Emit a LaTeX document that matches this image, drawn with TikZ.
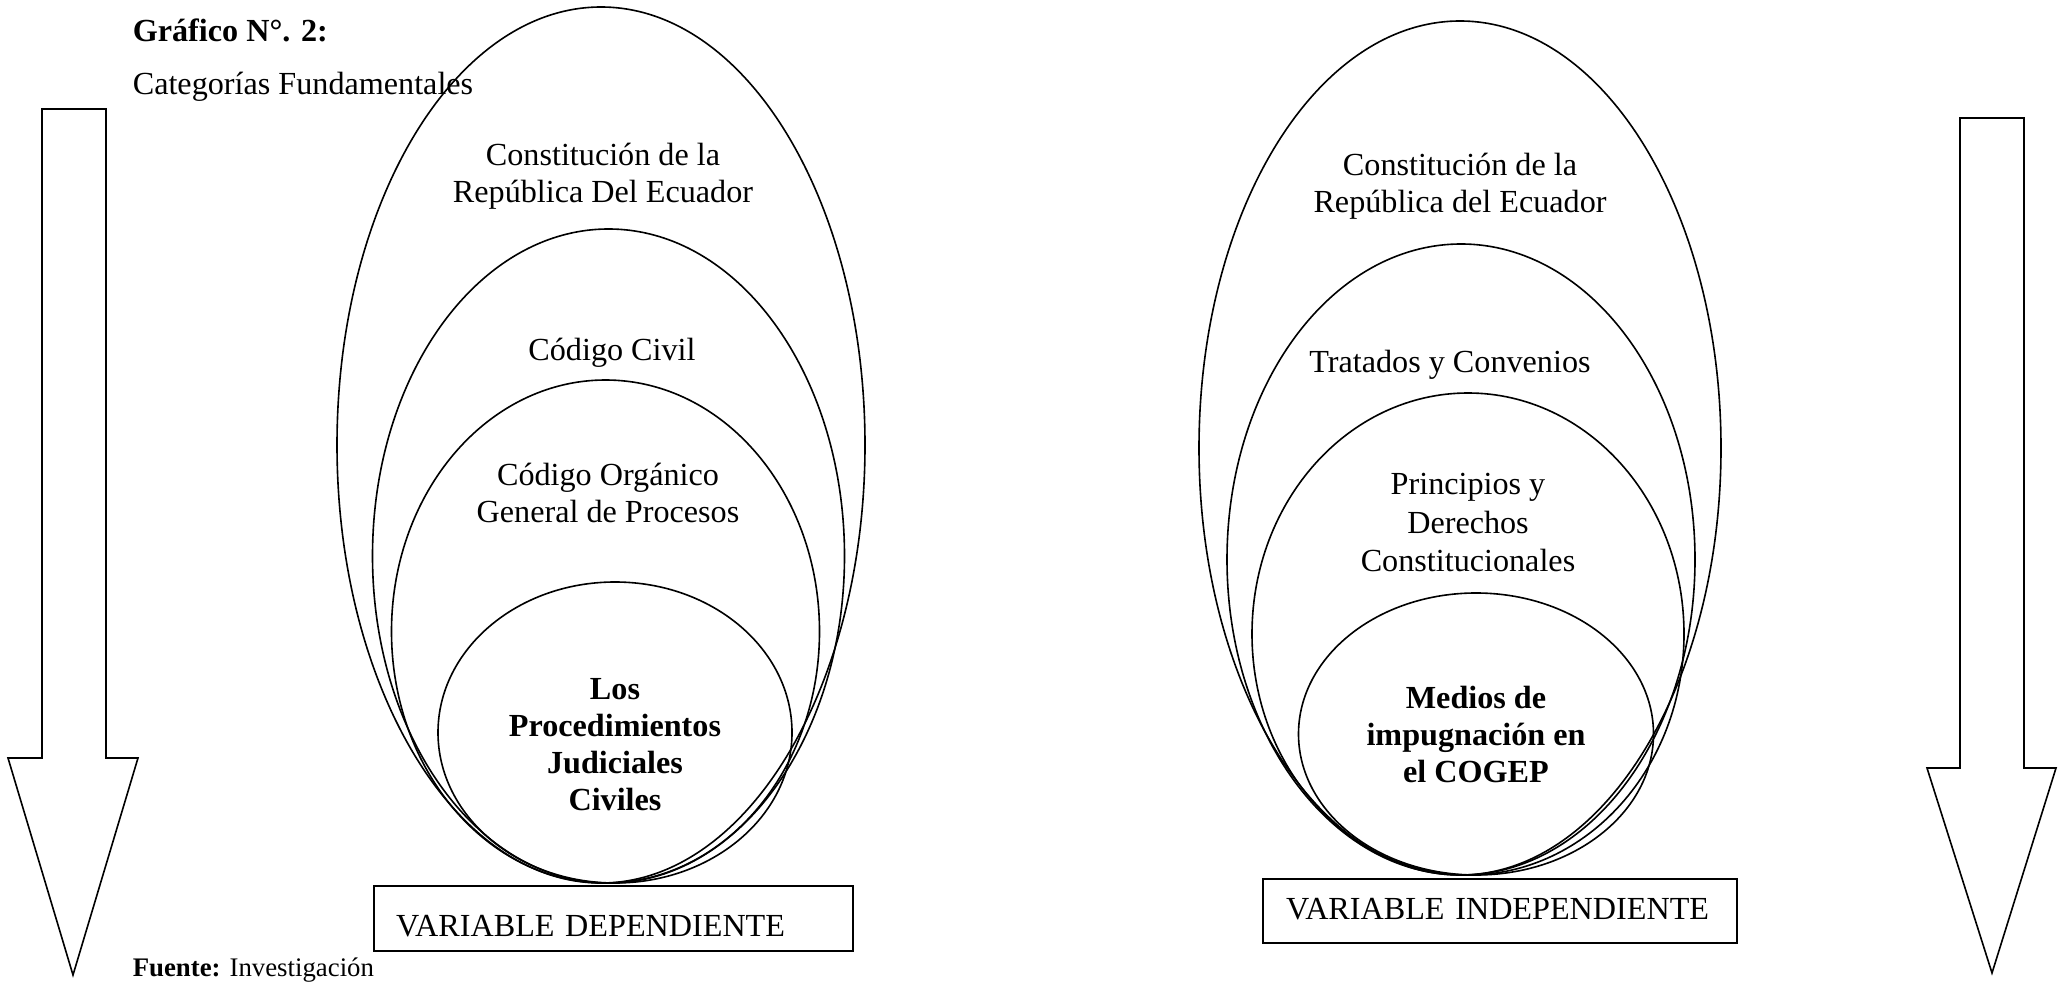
\documentclass[tikz,border=0pt]{standalone}
\usepackage{fontspec}
\setmainfont{Liberation Serif}

\begin{document}
\begin{tikzpicture}[x=0.373pt,y=-0.373pt,line width=0.6pt,
    text node/.style={anchor=base,align=center,inner sep=0pt,font=\fontsize{12}{13.8}\selectfont},
    bold node/.style={text node,font=\fontsize{12}{13.8}\selectfont\bfseries},
    head node/.style={anchor=base west,inner sep=0pt,font=\fontsize{12}{13.8}\selectfont},
    var node/.style={draw,line width=0.8pt,anchor=north west,align=left,inner ysep=0pt,font=\fontsize{12}{13.8}\selectfont}]
    \useasboundingbox (0,0) rectangle (2064,984);

    % encabezado
    \node[head node,font=\fontsize{12}{13.8}\selectfont\bfseries] (titulo) at (132,42) {Gráfico N°. 2:};
    \node[head node] (subtitulo) at (132,95) {Categorías Fundamentales};
    \node[head node,font=\fontsize{10}{11.5}\selectfont] (fuente) at (132,976) {\textbf{Fuente:} Investigación};

    % flechas
    \draw (42,109) -- (106,109) -- (106,758) -- (138,758) -- (73,975) -- (8,758) -- (42,758) -- cycle;
    \draw (1960,118) -- (2024,118) -- (2024,768) -- (2056,768) -- (1992,973) -- (1927,768) -- (1960,768) -- cycle;

    % variable dependiente (base = ultima linea)
    \draw (601,445) ellipse [x radius=264, y radius=438];
    \draw (608.5,556) ellipse [x radius=236, y radius=327];
    \draw (605.5,631.5) ellipse [x radius=214, y radius=251.5];
    \draw (615,732.5) ellipse [x radius=177, y radius=150.5];
    \node[text node] (d1) at (603,203) {Constitución de la\\República Del Ecuador};
    \node[text node] (d2) at (612,361) {Código Civil};
    \node[text node] (d3) at (608,522) {Código Orgánico\\General de Procesos};
    \node[bold node] (d4) at (615,810) {Los\\Procedimientos\\Judiciales\\Civiles};
    \node[var node,text width=162.3pt,inner xsep=8.2pt,text height=18.65pt,text depth=5.6pt] (vd) at (373,885) {VARIABLE DEPENDIENTE};

    % variable independiente
    \draw (1460,448) ellipse [x radius=261, y radius=427];
    \draw (1461,559.5) ellipse [x radius=234, y radius=315.5];
    \draw (1468,634) ellipse [x radius=216, y radius=241];
    \draw (1476,734) ellipse [x radius=177.5, y radius=141];
    \node[text node] (i1) at (1460,213) {Constitución de la\\República del Ecuador};
    \node[text node] (i2) at (1450,373) {Tratados y Convenios};
    \node[text node,font=\fontsize{12}{14.5}\selectfont] (i3) at (1468,572) {Principios y\\Derechos\\Constitucionales};
    \node[bold node] (i4) at (1476,782) {Medios de\\impugnación en\\el COGEP};
    \node[var node,text width=159.6pt,inner xsep=8.6pt,text height=14.9pt,text depth=9pt] (vi) at (1262,878) {VARIABLE INDEPENDIENTE};
\end{tikzpicture}
\end{document}
